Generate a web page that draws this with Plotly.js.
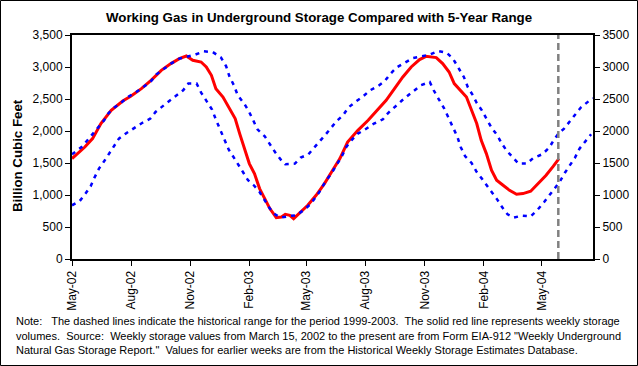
<!DOCTYPE html>
<html>
<head>
<meta charset="utf-8">
<script src="https://cdn.plot.ly/plotly-3.0.1.min.js"></script>
<style>
html,body{margin:0;padding:0;background:#fff;}
#chart{width:638px;height:366px;}
</style>
</head>
<body>
<div id="chart"></div>
<script>
// Weekly working gas in storage (Bcf)
var actualDates = ['2002-05-01','2002-05-21','2002-06-02','2002-06-15','2002-07-01','2002-07-19','2002-08-01','2002-08-17','2002-09-01','2002-09-17','2002-10-02','2002-10-15','2002-10-26','2002-11-05','2002-11-18','2002-11-26','2002-12-04','2002-12-11','2002-12-22','2003-01-01','2003-01-10','2003-01-17','2003-01-25','2003-02-01','2003-02-09','2003-02-17','2003-02-25','2003-03-05','2003-03-15','2003-03-23','2003-03-29','2003-04-05','2003-04-11','2003-04-21','2003-05-03','2003-05-16','2003-05-29','2003-06-09','2003-06-22','2003-07-04','2003-07-20','2003-08-05','2003-08-20','2003-09-02','2003-09-15','2003-09-28','2003-10-11','2003-10-24','2003-11-03','2003-11-19','2003-11-29','2003-12-09','2003-12-17','2003-12-28','2004-01-05','2004-01-13','2004-01-21','2004-01-28','2004-02-05','2004-02-13','2004-02-21','2004-03-02','2004-03-12','2004-03-23','2004-04-02','2004-04-14','2004-04-25','2004-05-08','2004-05-19','2004-05-28'];
var actualValues = [1570,1750,1881,2116,2323,2469,2547,2662,2792,2948,3053,3131,3172,3105,3078,3000,2870,2662,2531,2350,2194,1959,1698,1491,1334,1100,944,788,647,656,698,683,631,719,839,995,1178,1359,1569,1828,2011,2167,2334,2480,2662,2844,3000,3116,3167,3147,3053,2922,2741,2609,2531,2323,2116,1855,1647,1386,1230,1152,1073,1011,1022,1058,1178,1308,1448,1570];

// 5-year range maximum (1999-2003)
var maxDates = ['2002-05-01','2002-05-16','2002-05-25','2002-06-02','2002-06-10','2002-06-20','2002-06-27','2002-07-06','2002-07-16','2002-07-27','2002-08-09','2002-08-19','2002-08-31','2002-09-09','2002-09-21','2002-10-02','2002-10-15','2002-10-28','2002-11-09','2002-11-22','2002-12-06','2002-12-19','2002-12-27','2003-01-01','2003-01-08','2003-01-14','2003-01-24','2003-01-31','2003-02-07','2003-02-14','2003-02-25','2003-03-05','2003-03-13','2003-03-22','2003-03-29','2003-04-13','2003-04-22','2003-05-04','2003-05-14','2003-05-23','2003-05-31','2003-06-08','2003-06-17','2003-06-27','2003-07-05','2003-07-18','2003-07-27','2003-08-08','2003-08-20','2003-08-31','2003-09-08','2003-09-18','2003-10-01','2003-10-14','2003-10-27','2003-11-09','2003-11-22','2003-12-05','2003-12-15','2003-12-23','2004-01-01','2004-01-07','2004-01-15','2004-01-21','2004-01-29','2004-02-05','2004-02-13','2004-02-22','2004-02-29','2004-03-08','2004-03-18','2004-03-26','2004-04-08','2004-04-18','2004-05-02','2004-05-13','2004-05-19','2004-05-27','2004-06-05','2004-06-14','2004-06-22','2004-07-01','2004-07-13','2004-07-20'];
var maxValues = [1636,1750,1855,1948,2053,2167,2281,2366,2438,2531,2609,2678,2766,2881,2975,3053,3131,3167,3194,3245,3234,3147,3011,2855,2714,2558,2428,2313,2167,2022,1917,1792,1672,1553,1480,1491,1584,1636,1750,1844,1948,2045,2156,2245,2366,2469,2531,2636,2698,2781,2886,2991,3063,3141,3167,3194,3250,3225,3131,3000,2844,2688,2558,2438,2323,2194,2053,1933,1803,1688,1569,1491,1491,1578,1636,1741,1844,1959,2038,2156,2245,2366,2464,2510];

// 5-year range minimum (1999-2003)
var minDates = ['2002-05-01','2002-05-13','2002-05-22','2002-05-30','2002-06-05','2002-06-12','2002-06-20','2002-06-27','2002-07-05','2002-07-13','2002-07-25','2002-08-04','2002-08-18','2002-08-31','2002-09-08','2002-09-21','2002-10-01','2002-10-10','2002-10-21','2002-10-29','2002-11-11','2002-11-18','2002-11-27','2002-12-05','2002-12-11','2002-12-18','2002-12-24','2002-12-31','2003-01-08','2003-01-16','2003-01-23','2003-01-30','2003-02-08','2003-02-17','2003-02-25','2003-03-05','2003-03-13','2003-03-22','2003-04-05','2003-04-15','2003-04-28','2003-05-08','2003-05-21','2003-05-30','2003-06-09','2003-06-17','2003-06-25','2003-07-02','2003-07-10','2003-07-20','2003-07-31','2003-08-14','2003-08-28','2003-09-05','2003-09-16','2003-09-27','2003-10-05','2003-10-17','2003-10-26','2003-11-09','2003-11-15','2003-11-23','2003-12-01','2003-12-08','2003-12-15','2003-12-22','2003-12-27','2004-01-03','2004-01-13','2004-01-21','2004-01-29','2004-02-06','2004-02-14','2004-02-22','2004-03-01','2004-03-09','2004-03-19','2004-04-01','2004-04-14','2004-04-25','2004-05-05','2004-05-13','2004-05-21','2004-05-29','2004-06-06','2004-06-14','2004-06-22','2004-06-29','2004-07-09','2004-07-17'];
var minValues = [839,906,1022,1136,1272,1413,1527,1636,1761,1881,1969,2038,2125,2194,2297,2402,2480,2558,2636,2741,2741,2600,2469,2334,2178,2022,1866,1709,1584,1464,1344,1230,1152,1047,917,788,698,647,672,683,772,866,1047,1203,1340,1464,1605,1750,1855,1959,2022,2116,2183,2281,2386,2480,2547,2636,2714,2766,2636,2495,2359,2209,2053,1906,1750,1605,1500,1359,1256,1152,1047,928,803,698,647,678,667,772,891,995,1084,1203,1344,1464,1584,1725,1844,1948];

var tickDates = ['2002-05-01','2002-08-01','2002-11-01','2003-02-01','2003-05-01','2003-08-01','2003-11-01','2004-02-01','2004-05-01'];
var tickLabels = ['May-02','Aug-02','Nov-02','Feb-03','May-03','Aug-03','Nov-03','Feb-04','May-04'];

var xRange = ['2002-05-01','2004-07-20'];
var latestWeek = '2004-05-27';

var chartTitle = 'Working Gas in Underground Storage Compared with 5-Year Range';
var yTitle = 'Billion Cubic Feet';
var noteLines = [
  'Note:   The dashed lines indicate the historical range for the period 1999-2003.  The solid red line represents weekly storage',
  'volumes.  Source:  Weekly storage values from March 15, 2002 to the present are from Form EIA-912 "Weekly Underground',
  'Natural Gas Storage Report."  Values for earlier weeks are from the Historical Weekly Storage Estimates Database.'
];

var FONT = 'Arial, "Liberation Sans", sans-serif';

var traces = [
  {x: actualDates, y: actualValues, type: 'scatter', mode: 'lines', name: 'Storage',
   line: {color: '#FF0000', width: 3}, xaxis: 'x', yaxis: 'y'},
  {x: maxDates, y: maxValues, type: 'scatter', mode: 'lines', name: 'Max',
   line: {color: '#0000FF', width: 2.5, dash: '4px,5px'}, xaxis: 'x', yaxis: 'y2'},
  {x: minDates, y: minValues, type: 'scatter', mode: 'lines', name: 'Min',
   line: {color: '#0000FF', width: 2.5, dash: '4px,5px'}, xaxis: 'x', yaxis: 'y2'}
];

var axisCommon = {
  range: [0, 3500], tick0: 0, dtick: 500, showgrid: false, zeroline: false,
  showline: true, linecolor: '#000', linewidth: 2,
  ticks: 'outside', ticklen: 5, tickwidth: 1, tickcolor: '#000',
  tickfont: {family: FONT, size: 12, color: '#000'}, fixedrange: true
};

var noteY = [321, 335.5, 350];
var noteAnnotations = noteLines.map(function (t, i) {
  return {text: t, xref: 'paper', yref: 'paper', align: 'left',
          x: (14 - 72) / 521, y: (259 - noteY[i]) / 224, xanchor: 'left', yanchor: 'middle',
          showarrow: false, font: {family: FONT, size: 11, color: '#000'}};
});

var layout = {
  width: 638, height: 366,
  margin: {l: 72, r: 45, t: 35, b: 107, pad: 0},
  paper_bgcolor: '#fff', plot_bgcolor: '#fff',
  showlegend: false,
  title: {text: '<b>' + chartTitle + '</b>', font: {family: FONT, size: 13.3, color: '#000'},
          xref: 'container', x: 0.5, xanchor: 'center', yref: 'container', y: 1 - 17/366, yanchor: 'middle'},
  xaxis: {
    type: 'date', range: xRange, tickmode: 'array', tickvals: tickDates, ticktext: tickLabels,
    tickangle: -90, showgrid: false, zeroline: false, showline: true, mirror: true,
    linecolor: '#000', linewidth: 2, ticks: 'outside', ticklen: 5, tickwidth: 1, tickcolor: '#000',
    tickfont: {family: FONT, size: 12, color: '#000'}, fixedrange: true
  },
  yaxis: Object.assign({}, axisCommon, {tickformat: ',d', side: 'left'}),
  yaxis2: Object.assign({}, axisCommon, {tickformat: 'd', side: 'right', overlaying: 'y', anchor: 'x'}),
  annotations: [
    {text: '<b>' + yTitle + '</b>', textangle: -90, xref: 'paper', yref: 'paper',
     x: (17 - 72) / 521, y: (259 - 156) / 224, xanchor: 'center', yanchor: 'middle', showarrow: false,
     font: {family: FONT, size: 13.3, color: '#000'}}
  ].concat(noteAnnotations),
  shapes: [
    {type: 'line', xref: 'x', yref: 'paper', x0: latestWeek, x1: latestWeek, y0: 0, y1: 1,
     line: {color: '#808080', width: 2.5, dash: '7px,4px'}},
    {type: 'rect', xref: 'paper', yref: 'paper',
     x0: (0.5 - 72) / 521, x1: (637.5 - 72) / 521, y0: (259 - 365.5) / 224, y1: (259 - 0.5) / 224,
     line: {color: '#000', width: 1}, fillcolor: 'rgba(0,0,0,0)'}
  ]
};

Plotly.newPlot('chart', traces, layout, {displayModeBar: false, staticPlot: true});
</script>
</body>
</html>
